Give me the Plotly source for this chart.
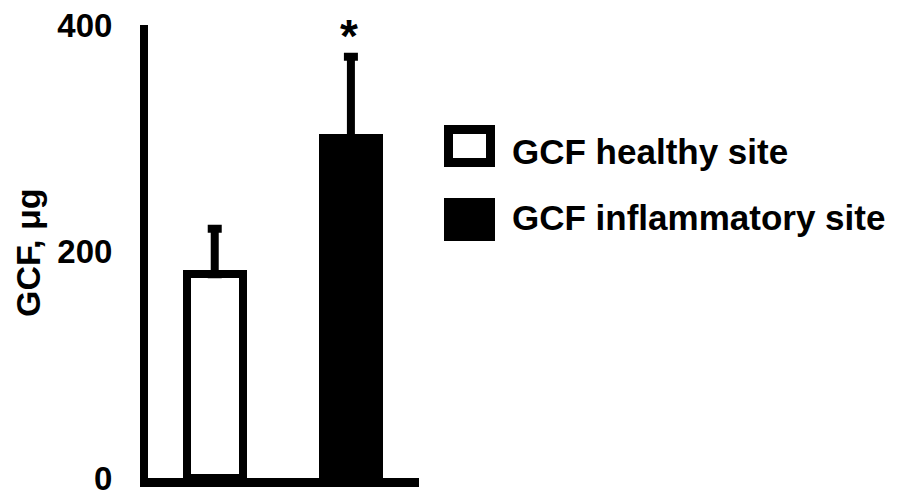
import plotly.graph_objects as go

categories = ["GCF healthy site", "GCF inflammatory site"]
means = [180, 300]
errors_up = [40, 72]
fills = ["white", "black"]
y_ticks = [0, 200, 400]
y_title = "GCF, μg"
signif = ["", "*"]

OFF = 8            # default page body margin in the browser
EXTRA = 10         # extra canvas below the window so bottom tick label is not clipped
W, H = 898, 493    # window size
L, R, T, B = 148, 419, 25, 478  # plot area in window pixels

def px(x):
    return (x - L) / (R - L)

def py(y):
    return (B - y) / (B - T)

FONT = "Liberation Sans, Arial, sans-serif"

fig = go.Figure()
for i, c in enumerate(categories):
    fig.add_trace(go.Bar(
        x=[c], y=[means[i]], name=c, width=0.41,
        marker=dict(color=fills[i], line=dict(color="black", width=8)),
        error_y=dict(type="data", symmetric=False, array=[errors_up[i]],
                     arrayminus=[0], color="black", thickness=8, width=7),
        showlegend=False,
    ))

# significance marks
for i, c in enumerate(categories):
    if signif[i]:
        fig.add_annotation(x=c, y=means[i] + errors_up[i], xref="x", yref="y",
                           text="<b>%s</b>" % signif[i], showarrow=False,
                           font=dict(family=FONT, size=46, color="black"),
                           yanchor="bottom", xshift=-2, yshift=-7)

# manual legend
legend_rows = [(125, 167), (198, 241)]
text_y = [151, 218]
for i, c in enumerate(categories):
    y0, y1 = legend_rows[i]
    fig.add_shape(type="rect", xref="paper", yref="paper",
                  x0=px(448.5), x1=px(490.5), y0=py(y0 + 4.5), y1=py(y1 - 4.5),
                  line=dict(color="black", width=9), fillcolor=fills[i])
    fig.add_annotation(x=px(510), y=py(text_y[i]),
                       xref="paper", yref="paper", text="<b>%s</b>" % c,
                       showarrow=False, xanchor="left", yanchor="middle",
                       font=dict(family=FONT, size=35, color="black"))

fig.add_annotation(x=px(28), y=py(253), xref="paper", yref="paper",
                   text="<b>%s</b>" % y_title, textangle=-90, showarrow=False,
                   xanchor="center", yanchor="middle",
                   font=dict(family=FONT, size=34, color="black"))

fig.update_layout(
    width=W - OFF, height=H - OFF + EXTRA,
    margin=dict(l=L - OFF, r=W - R, t=T - OFF, b=H - B + EXTRA, pad=0,
                autoexpand=False),
    plot_bgcolor="white", paper_bgcolor="white",
    bargap=0,
)
fig.update_xaxes(range=[-0.49, 1.5], showticklabels=False, ticks="",
                 showgrid=False, zeroline=False, showline=True, automargin=False,
                 linecolor="black", linewidth=9)
fig.update_yaxes(range=[0, 400], tickvals=y_ticks, ticks="", showgrid=False,
                 zeroline=False, showline=True, linecolor="black", linewidth=8,
                 ticklabelstandoff=21, ticklabeloverflow="allow", automargin=False,
                 tickfont=dict(family=FONT, size=33, color="black", weight="bold"))

fig.write_html("out.html")
